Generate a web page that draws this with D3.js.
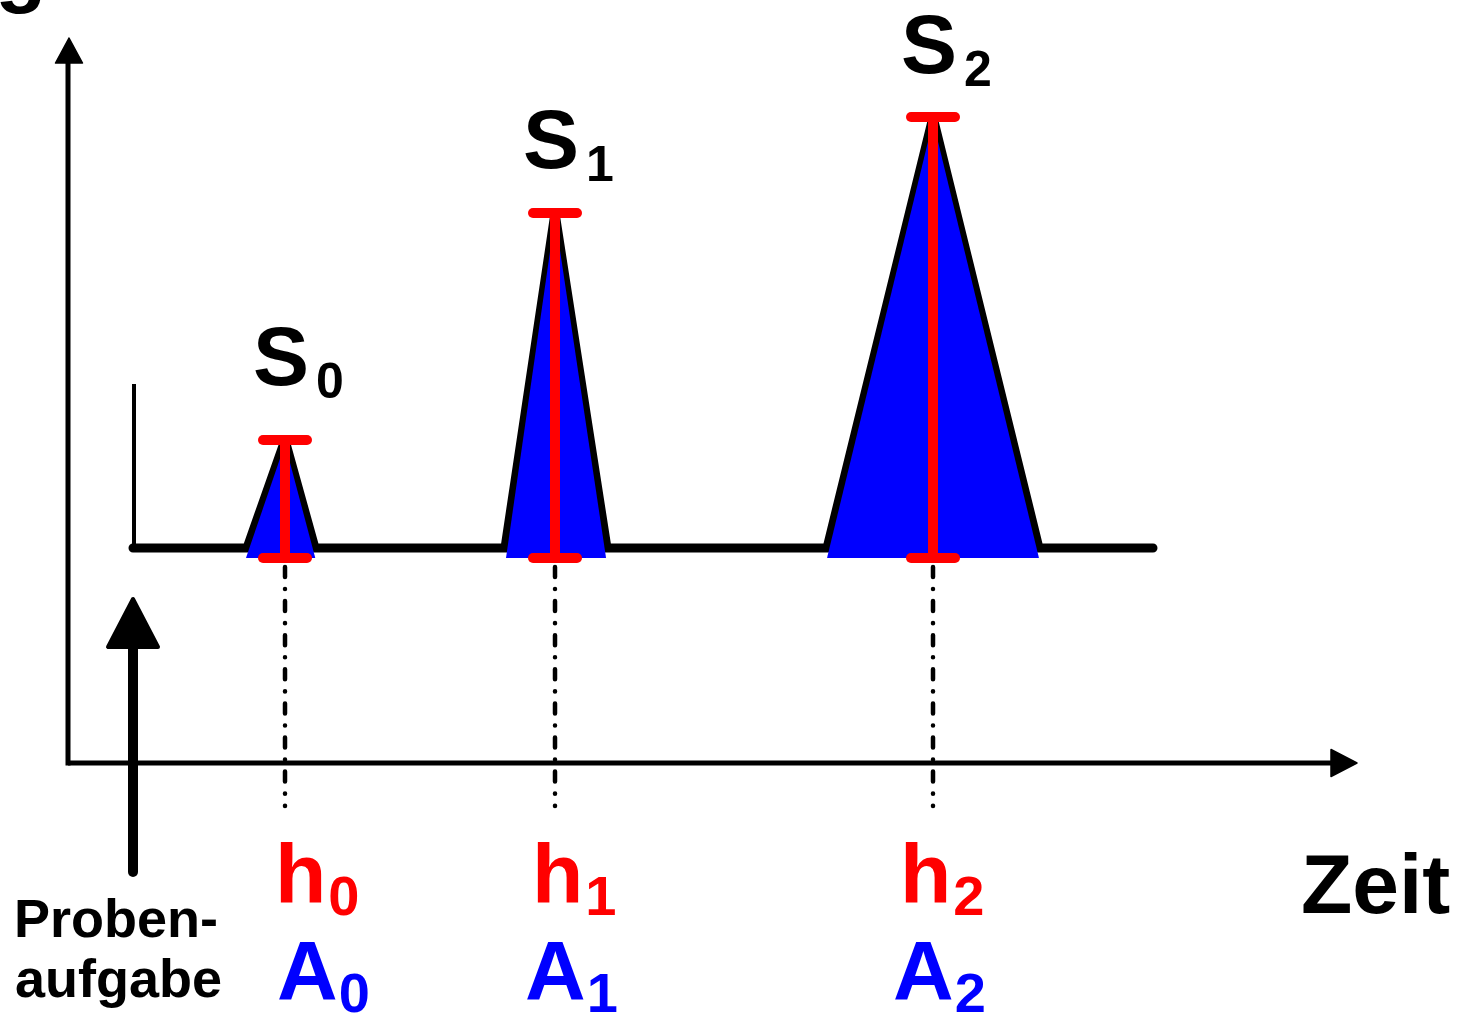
<!DOCTYPE html>
<html>
<head>
<meta charset="utf-8">
<script src="https://cdn.jsdelivr.net/npm/d3@7"></script>
<style>
  html, body { margin: 0; padding: 0; background: #fff; }
  svg { display: block; }
  text { font-family: "Liberation Sans", Arial, Helvetica, sans-serif; font-weight: bold; }
</style>
</head>
<body>
<svg id="chart" width="1465" height="1013"></svg>
<script>
// Chromatogram sketch: three peaks S0..S2 with height h and area A
const peakIds = ["0", "1", "2"];
const peakTimes = [2.17, 4.87, 8.65];          // retention time (min)
const peakHeights = [1.08, 3.35, 4.31];        // signal above baseline
const peakLeftWidths = [0.38, 0.50, 1.06];     // rise width at baseline
const peakRightWidths = [0.30, 0.52, 1.06];    // fall width at baseline
const baselineStart = 0.65;
const baselineEnd = 10.85;
const injectionTime = 0.65;
const startMarkerHeight = 1.64;
const fillDepth = -0.1;                        // fill/height bars reach slightly below baseline

const svg = d3.select("#chart");

const x = d3.scaleLinear().domain([0, 12.89]).range([68, 1357]);
const y = d3.scaleLinear().domain([0, 5]).range([548, 48]);
const axisLevel = -2.15;
const axisTop = 5.1;

const peaks = peakIds.map((id, i) => ({
  id, t: peakTimes[i], h: peakHeights[i], l: peakLeftWidths[i], r: peakRightWidths[i]
}));

// label offsets (px) relative to the peak position
const sShift = [-32, -32, -32];
const sLift = [55, 45, 44];
const hShift = [-10, -23, -33];
const aShift = [-8, -30, -40];

// ---------- axes ----------
const xAxis = d3.axisBottom(x).tickValues([]).tickSizeOuter(0);
const gx = svg.append("g").attr("transform", `translate(0,${y(axisLevel) - 0.5})`).call(xAxis);
gx.select(".domain").attr("stroke", "#000").attr("stroke-width", 5)
  .attr("d", `M${x(0)},0.5H${x.range()[1] - 20}`);

const yAxisScale = d3.scaleLinear().domain([axisLevel, axisTop]).range([y(axisLevel) + 2.5, y(axisTop)]);
const yAxis = d3.axisLeft(yAxisScale).tickValues([]).tickSizeOuter(0);
const gy = svg.append("g").attr("transform", `translate(${x(0) + 0.5},0)`).call(yAxis);
gy.select(".domain").attr("stroke", "#000").attr("stroke-width", 5)
  .attr("d", `M-0.5,${yAxisScale.range()[0]}V${y(axisTop) + 20}`);

// arrow heads
const xr = x.range()[1], ax = y(axisLevel);
svg.append("path")
  .attr("d", `M${xr},${ax}L${xr - 26},${ax - 13.5}L${xr - 26},${ax + 13.5}Z`)
  .attr("fill", "#000").attr("stroke", "#000").attr("stroke-width", 1.5).attr("stroke-linejoin", "round");
const yt = y(axisTop), yx = x(0) + 1;
svg.append("path")
  .attr("d", `M${yx},${yt}L${yx - 13.5},${yt + 25}L${yx + 13.5},${yt + 25}Z`)
  .attr("fill", "#000").attr("stroke", "#000").attr("stroke-width", 1.5).attr("stroke-linejoin", "round");

// axis title (top-left, largely outside the view)
svg.append("text").attr("x", -84).attr("y", -3).attr("font-size", 84).attr("fill", "#000").text("Signal");

svg.append("text").attr("x", 1301).attr("y", 913).attr("font-size", 84).attr("fill", "#000").text("Zeit");

// ---------- signal trace ----------
svg.append("line")
  .attr("x1", x(baselineStart) + 1).attr("x2", x(baselineStart) + 1)
  .attr("y1", y(startMarkerHeight)).attr("y2", y(0))
  .attr("stroke", "#000").attr("stroke-width", 4);

const tracePts = [[baselineStart, 0]];
peaks.forEach(p => { tracePts.push([p.t - p.l, 0], [p.t, p.h], [p.t + p.r, 0]); });
tracePts.push([baselineEnd, 0]);

const line = d3.line().x(d => x(d[0])).y(d => y(d[1]));
svg.append("path").attr("d", line(tracePts))
  .attr("fill", "none").attr("stroke", "#000").attr("stroke-width", 9)
  .attr("stroke-linecap", "round").attr("stroke-linejoin", "miter")
  .attr("stroke-miterlimit", 2);

// peak areas, set just inside the trace so the outline stays visible
const inset = 2.5;
svg.selectAll("path.area").data(peaks).join("path").attr("class", "area")
  .attr("d", p => {
    const k = (p.h - fillDepth) / p.h;
    const ax0 = x(p.t), ay0 = y(p.h) + 4;
    const lx = x(p.t - p.l * k) + inset, rx = x(p.t + p.r * k) - inset, by = y(fillDepth);
    return `M${ax0},${ay0}L${lx},${by}L${rx},${by}Z`;
  })
  .attr("fill", "#0000ff");

// height bars
const capHalf = 22;
const bars = svg.selectAll("g.bar").data(peaks).join("g").attr("class", "bar")
  .attr("stroke", "#ff0000").attr("stroke-width", 10).attr("stroke-linecap", "round");
bars.append("line").attr("x1", p => x(p.t)).attr("x2", p => x(p.t))
  .attr("y1", p => y(p.h) + 2).attr("y2", y(fillDepth));
bars.append("line").attr("x1", p => x(p.t) - capHalf).attr("x2", p => x(p.t) + capHalf)
  .attr("y1", p => y(p.h)).attr("y2", p => y(p.h));
bars.append("line").attr("x1", p => x(p.t) - capHalf).attr("x2", p => x(p.t) + capHalf)
  .attr("y1", y(fillDepth)).attr("y2", y(fillDepth));

// retention-time drop lines (dash-dot)
svg.selectAll("line.drop").data(peaks).join("line").attr("class", "drop")
  .attr("x1", p => x(p.t)).attr("x2", p => x(p.t))
  .attr("y1", y(fillDepth) + 9).attr("y2", 806)
  .attr("stroke", "#000").attr("stroke-width", 4.5)
  .attr("stroke-linecap", "round")
  .attr("stroke-dasharray", "10,12,0.1,12");

// ---------- labels ----------
const sLab = svg.selectAll("text.s").data(peaks).join("text").attr("class", "s")
  .attr("x", (p, i) => x(p.t) + sShift[i]).attr("y", (p, i) => y(p.h) - sLift[i])
  .attr("font-size", 84).attr("fill", "#000");
sLab.append("tspan").text("S");
sLab.append("tspan").attr("dx", 7).attr("dy", 13).attr("font-size", 50).text(p => p.id);

const hLab = svg.selectAll("text.h").data(peaks).join("text").attr("class", "h")
  .attr("x", (p, i) => x(p.t) + hShift[i]).attr("y", 903)
  .attr("font-size", 84).attr("fill", "#ff0000");
hLab.append("tspan").text("h");
hLab.append("tspan").attr("dx", 2).attr("dy", 12).attr("font-size", 56).text(p => p.id);

const aLab = svg.selectAll("text.a").data(peaks).join("text").attr("class", "a")
  .attr("x", (p, i) => x(p.t) + aShift[i]).attr("y", 1000)
  .attr("font-size", 84).attr("fill", "#0000ff");
aLab.append("tspan").text("A");
aLab.append("tspan").attr("dx", 1).attr("dy", 12).attr("font-size", 56).text(p => p.id);

// ---------- sample injection ----------
const ix = x(injectionTime);
svg.append("line").attr("x1", ix).attr("x2", ix).attr("y1", 872).attr("y2", 640)
  .attr("stroke", "#000").attr("stroke-width", 10).attr("stroke-linecap", "round");
svg.append("path")
  .attr("d", `M${ix},${599}L${ix - 25},${647}L${ix + 25},${647}Z`)
  .attr("fill", "#000").attr("stroke", "#000").attr("stroke-width", 4).attr("stroke-linejoin", "round");

const inj = svg.append("text").attr("font-size", 54).attr("fill", "#000");
inj.append("tspan").attr("x", 14).attr("y", 937).text("Proben-");
inj.append("tspan").attr("x", 15).attr("y", 997).text("aufgabe");
</script>
</body>
</html>
